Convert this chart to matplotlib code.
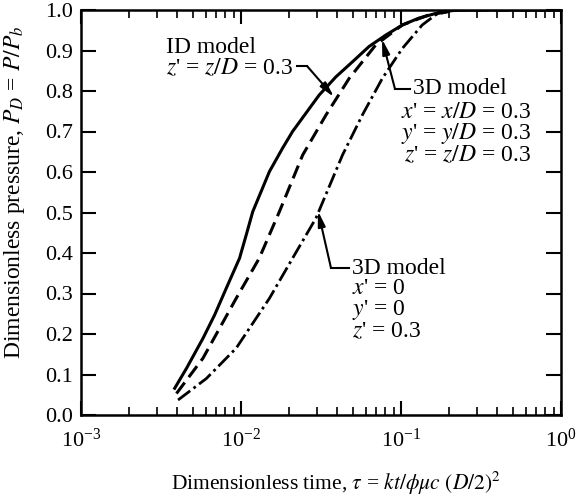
import matplotlib
matplotlib.use("Agg")
import matplotlib.pyplot as plt
from matplotlib.ticker import LogLocator, NullFormatter, FixedLocator

plt.rcParams['font.family'] = ['Liberation Serif', 'DejaVu Serif']
plt.rcParams['mathtext.fontset'] = 'stix'

# curva solida: modelo 1D, z' = 0.3
tau_1d = [3.85e-3, 4.56e-3, 5.78e-3, 6.84e-3, 8.09e-3, 9.79e-3, 1.077e-2, 1.184e-2,
          1.505e-2, 1.82e-2, 2.10e-2, 3.08e-2, 3.92e-2, 4.97e-2, 6.32e-2, 8.03e-2,
          0.1019, 0.1294, 0.181, 0.23, 1.0]
p_1d = [0.066, 0.115, 0.189, 0.247, 0.313, 0.387, 0.444, 0.502,
        0.601, 0.659, 0.70, 0.79, 0.835, 0.872, 0.91, 0.938,
        0.963, 0.98, 0.996, 1.0, 1.0]

# curva de trazos: modelo 3D, x' = y' = z' = 0.3
tau_3d_a = [3.95e-3, 5.78e-3, 9.33e-3, 1.30e-2, 1.737e-2, 2.43e-2, 3.40e-2,
            4.74e-2, 6.96e-2, 0.1019, 0.1494, 0.199, 0.23, 1.0]
p_3d_a = [0.053, 0.140, 0.288, 0.387, 0.502, 0.642, 0.741,
          0.831, 0.914, 0.963, 0.988, 0.996, 1.0, 1.0]

# curva trazo-punto: modelo 3D, x' = y' = 0, z' = 0.3
tau_3d_b = [4.04e-3, 6.07e-3, 9.33e-3, 1.505e-2, 2.10e-2, 2.94e-2, 4.31e-2,
            5.74e-2, 7.64e-2, 0.1019, 0.1357, 0.1645, 0.21, 1.0]
p_3d_b = [0.037, 0.09, 0.165, 0.288, 0.387, 0.486, 0.642,
          0.741, 0.831, 0.905, 0.963, 0.988, 1.0, 1.0]

yticks = [0.0, 0.1, 0.2, 0.3, 0.4, 0.5, 0.6, 0.7, 0.8, 0.9, 1.0]

fig = plt.figure(figsize=(5.78, 4.96), dpi=100)
ax = fig.add_axes([81 / 578, 81 / 496, 480 / 578, 405 / 496])

ax.plot(tau_1d, p_1d, color='black', lw=2.2, solid_joinstyle='round')
ax.plot(tau_3d_a, p_3d_a, color='black', lw=2.2, dashes=(4.5, 2.2))
ax.plot(tau_3d_b, p_3d_b, color='black', lw=2.0, dashes=(5.5, 1.5, 1, 1.5))

ax.set_xscale('log')
ax.set_xlim(1e-3, 1.0)
ax.set_ylim(0.0, 1.0)
ax.yaxis.set_major_locator(FixedLocator(yticks))
ax.set_yticklabels([f'{v:.1f}' for v in yticks])
ax.xaxis.set_major_locator(LogLocator(base=10, numticks=10))
ax.xaxis.set_minor_locator(LogLocator(base=10, subs=range(2, 10), numticks=20))
ax.xaxis.set_minor_formatter(NullFormatter())

for s in ax.spines.values():
    s.set_linewidth(1.8)

ax.tick_params(axis='x', which='major', direction='in', length=10, width=1.5,
               top=True, labelsize=16, pad=10)
ax.tick_params(axis='x', which='minor', direction='in', length=6, width=1.2, top=True)
ax.tick_params(axis='y', which='major', direction='in', length=11, width=1.5,
               right=True, labelsize=16, pad=6)

ax.set_xlabel(r'Dimensionless time, $\tau$ = $kt/\phi\mu c$ $(D/2)^2$', fontsize=15.5)
ax.xaxis.set_label_coords(0.532, -0.135)
ax.set_ylabel(r'Dimensionless pressure, $P_D$ = $P/P_b$', fontsize=17)
ax.yaxis.set_label_coords(-0.112, 0.55)

fs = 17
# etiquetas de las curvas (bloques de varias lineas)
fig.text(166 / 578, 1 - 58 / 496, "ID model\n" + r"$z$' = $z/D$ = 0.3",
         fontsize=fs, va='center', ha='left', linespacing=0.98)

fig.text(413 / 578, 1 - 88 / 496, '3D model', fontsize=fs, va='center', ha='left')
fig.text(531 / 578, 1 - 134 / 496,
         r"$x$' = $x/D$ = 0.3" + "\n" + r"$y$' = $y/D$ = 0.3" + "\n" + r"$z$' = $z/D$ = 0.3",
         fontsize=fs, va='center', ha='right', multialignment='right', linespacing=0.9)

fig.text(352 / 578, 1 - 300 / 496,
         "3D model\n" + r"$x$' = 0" + "\n" + r"$y$' = 0" + "\n" + r"$z$' = 0.3",
         fontsize=fs, va='center', ha='left', linespacing=0.93)

H = 496
def flecha(p0, p1, p2):
    # tramo recto y luego punta de flecha
    fig.add_artist(plt.Line2D([p0[0] / 578, p1[0] / 578], [1 - p0[1] / H, 1 - p1[1] / H],
                              color='black', lw=1.5, transform=fig.transFigure))
    ax.annotate('', xy=(p2[0], H - p2[1]), xycoords='figure pixels',
                xytext=(p1[0], H - p1[1]), textcoords='figure pixels',
                arrowprops=dict(arrowstyle='-|>,head_length=0.9,head_width=0.22',
                                color='black', lw=1.5, shrinkA=0, shrinkB=0,
                                mutation_scale=10))

flecha((297, 66), (307, 66), (334, 97))
flecha((410, 89), (395, 89), (382, 39))
flecha((349, 268), (331, 268), (318, 211))

fig.savefig('out.png', dpi=100)
